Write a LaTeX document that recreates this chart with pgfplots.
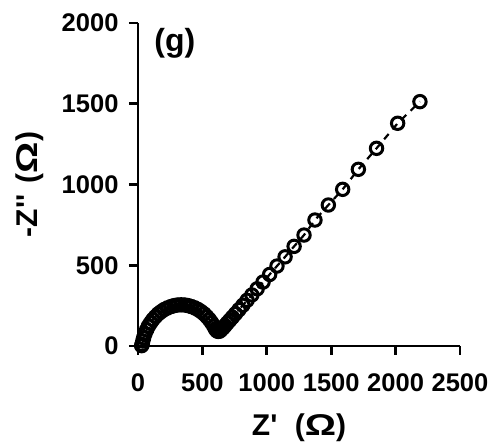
\documentclass[border=0pt]{standalone}
\usepackage{fontspec}
\setmainfont{Liberation Sans}[Ligatures=TeXOff]
\usepackage{graphicx}
\usepackage{pgfplots}
\pgfplotsset{compat=1.18}
\newcommand{\Ohm}{\scalebox{1.3}[1]{Ω}}

\begin{document}
\begin{tikzpicture}
\begin{axis}[
  scale only axis, width=322pt, height=323pt,
  at={(0,0)}, anchor=south west,
  xmin=0, xmax=2500, ymin=0, ymax=2000,
  axis x line=bottom, axis y line=left,
  axis line style={line width=2.8pt, -},
  xtick={0,500,...,2500}, ytick={0,500,...,2000},
  tick align=outside, major tick length=9pt,
  tick style={line width=2.8pt, black},
  /pgf/number format/assume math mode=true,
  /pgf/number format/1000 sep={},
  tick label style={font=\fontsize{25.5}{25.5}\selectfont\bfseries},
  xticklabel style={yshift=-15pt},
  yticklabel style={xshift=-7pt},
  every axis y label/.style={at={(axis description cs:-0.335,0.5)}, rotate=90, anchor=center},
  every axis x label/.style={at={(axis description cs:0.5,-0.254)}, anchor=center},
  label style={font=\fontsize{30}{30}\selectfont\bfseries},
  xlabel={Z'\hspace{0.3em} (\Ohm)}, ylabel={-Z''\hspace{0.1em} (\Ohm)},
  clip=false,
]
\addplot[black, line width=2.2pt, dash pattern=on 7pt off 6pt,
  mark=o, mark size=6.2pt, mark options={solid, line width=3pt}]
  coordinates {
  (28,2) (32,9.5) (37,30.5) (44,51) (54,76) (67,100) (81,123) (98,144)
  (116,164) (136,182) (157,199) (180,213) (204,226) (229,236) (255,244)
  (281,250) (308,254) (335,255) (362,254) (389,250) (415,244) (441,236)
  (466,226) (490,213) (513,199) (534,182) (554,164) (572,144) (589,123)
  (601,105) (612,94) (623,90) (634,92) (644,99) (661,112) (676,126)
  (693,142) (712,159) (733,178) (757,200) (784,225) (814,252) (847,283)
  (884,316) (925,354) (971,396) (1022,443) (1079,495) (1142,552)
  (1212,617) (1289,687) (1374,780) (1478,873) (1589,970) (1711,1094)
  (1852,1224) (2016,1379) (2189,1513)
  };
\node[font=\fontsize{32}{32}\selectfont\bfseries, anchor=west]
  at (axis description cs:0.040,0.938) {(g)};
\end{axis}
\pgfresetboundingbox
\path[use as bounding box] (-138pt,-97pt) rectangle (354pt,346pt);
\end{tikzpicture}
\end{document}
